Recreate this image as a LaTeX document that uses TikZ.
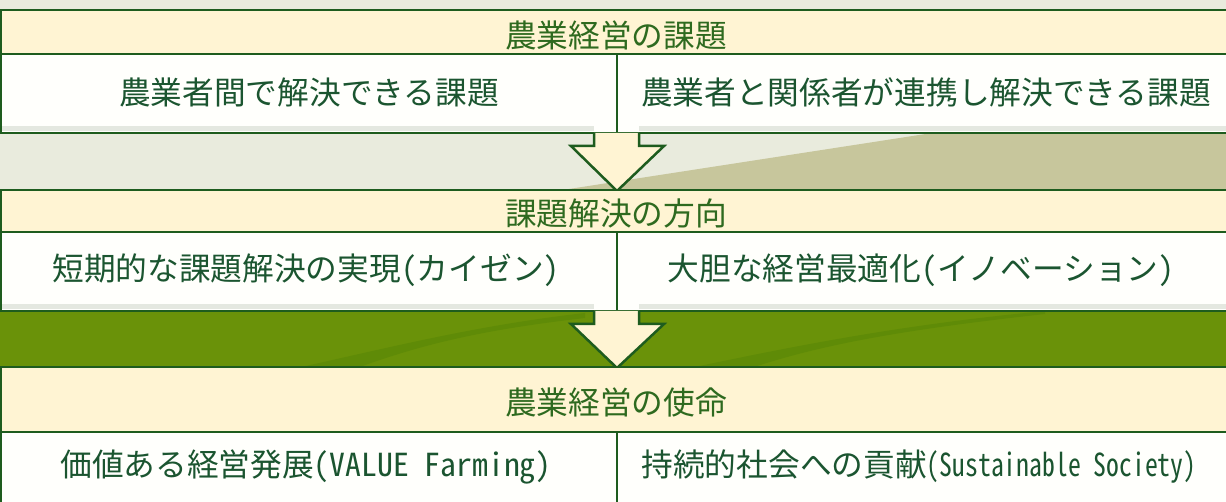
\documentclass[tikz,border=0pt]{standalone}
\usepackage{fontspec}
\newfontfamily\jp{Noto Sans CJK JP}
\newfontfamily\jphw[RawFeature=+hwid]{Noto Sans CJK JP}
\newfontfamily\jphwn[RawFeature=+hwid,FakeStretch=0.81]{Noto Sans CJK JP}
\definecolor{bggray}{HTML}{E9EBDD}
\definecolor{olivec}{HTML}{C7C69C}
\definecolor{bandc}{HTML}{6A9209}
\definecolor{stripec}{HTML}{5F8B07}
\definecolor{creamc}{HTML}{FFF4D3}
\definecolor{rowc}{HTML}{FFFFFC}
\definecolor{shadowc}{HTML}{E4E8E0}
\definecolor{bdc}{HTML}{1E5C1E}
\definecolor{txtc}{HTML}{1B5530}
\definecolor{htxtc}{HTML}{2E6A1F}
\tikzset{
  hdrbox/.style={fill=creamc, draw=bdc, line width=2.5bp},
  rowbox/.style={fill=rowc, draw=bdc, line width=2.2bp},
  divline/.style={draw=bdc, line width=2bp},
  arrowfill/.style={fill=creamc},
  arrowline/.style={draw=bdc, line width=2.5bp, line join=miter},
  htext/.style={inner sep=0pt, text=htxtc, font=\fontsize{31.7bp}{36bp}\selectfont\jp},
  rtext/.style={inner sep=0pt, text=txtc, font=\fontsize{31.7bp}{36bp}\selectfont\jp},
}
\begin{document}
\begin{tikzpicture}[x=1bp,y=-1bp]
\useasboundingbox (0,0) rectangle (1226,502);
\clip (0,0) rectangle (1226,502);
% backgrounds
\fill[bggray] (0,0) rectangle (1226,190);
\fill[olivec] (556,191) -- (932,133) -- (1230,133) -- (1230,191) -- cycle;
\fill[bandc] (0,311) rectangle (1226,368);
\fill[stripec] (297,368) .. controls (400,345) and (480,325) .. (585,313)
  -- (585,318) .. controls (480,330) and (420,345) .. (357,368) -- cycle;
\fill[stripec] (690,368) .. controls (800,345) and (900,325) .. (1045,311)
  -- (1045,314) .. controls (900,330) and (820,345) .. (751,368) -- cycle;
% row 1
\draw[hdrbox] (1,10) rectangle (1232,54);
\draw[rowbox] (1,54) rectangle (1232,133);
\fill[shadowc] (2,126) rectangle (594,131.5);
\fill[shadowc] (639,126) rectangle (1226,131.5);
\draw[divline] (617,54) -- (617,133);
\draw[bdc, line width=2.2bp] (0,133) -- (1226,133);
% arrow 1
\coordinate (a1) at (617,191);
\fill[arrowfill] (594,133) -- (594,146) -- (571,146) -- (a1) -- (664,146) -- (639,146) -- (639,133) -- cycle;
\draw[arrowline] (594,133) -- (594,146) -- (571,146) -- (a1) -- (664,146) -- (639,146) -- (639,133);
% row 2
\draw[hdrbox] (1,190) rectangle (1232,232);
\draw[rowbox] (1,232) rectangle (1232,311);
\fill[shadowc] (2,304) rectangle (594,309.5);
\fill[shadowc] (639,304) rectangle (1226,309.5);
\draw[divline] (617,232) -- (617,311);
\draw[bdc, line width=2.2bp] (0,311) -- (1226,311);
% arrow 2
\coordinate (a2) at (617,368);
\fill[arrowfill] (594,311) -- (594,324) -- (571,324) -- (a2) -- (664,324) -- (639,324) -- (639,311) -- cycle;
\draw[arrowline] (594,311) -- (594,324) -- (571,324) -- (a2) -- (664,324) -- (639,324) -- (639,311);
% row 3
\draw[hdrbox] (1,367) rectangle (1232,432);
\draw[rowbox] (1,432) rectangle (1232,510);
\draw[divline] (617,432) -- (617,510);
% texts
\node[htext] (h1) at (616,35) {農業経営の課題};
\node[rtext] (r1l) at (309,92) {農業者間で解決できる課題};
\node[rtext] (r1r) at (926,92) {農業者と関係者が連携し解決できる課題};
\node[htext] (h2) at (616,213.5) {課題解決の方向};
\node[rtext] (r2l) at (306,270) {短期的な課題解決の実現{\jphw(}カイゼン{\jphw)}};
\node[rtext] (r2r) at (921,270) {大胆な経営最適化{\jphw(}イノベーション{\jphw)}};
\node[htext] (h3) at (616,402) {農業経営の使命};
\node[rtext] (r3l) at (306,467) {価値ある経営発展{\jphw(VALUE Farming)}};
\node[rtext] (r3r) at (919,467) {持続的社会への貢献{\jphwn(Sustainable Society)}};
\end{tikzpicture}
\end{document}
